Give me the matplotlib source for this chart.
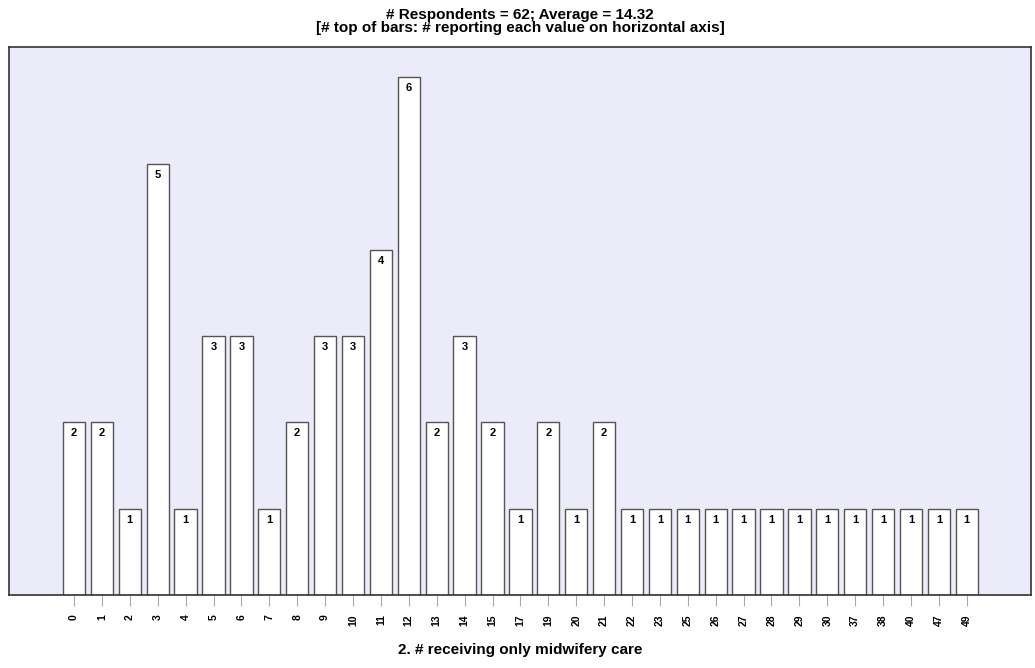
import numpy as np
import matplotlib.pyplot as plt

plt.rcParams['font.family'] = ['Liberation Sans', 'DejaVu Sans']

values = ['0', '1', '2', '3', '4', '5', '6', '7', '8', '9', '10', '11', '12', '13', '14', '15',
          '17', '19', '20', '21', '22', '23', '25', '26', '27', '28', '29', '30', '37', '38',
          '40', '47', '49']
counts = [2, 2, 1, 5, 1, 3, 3, 1, 2, 3, 3, 4, 6, 2, 3, 2,
          1, 2, 1, 2, 1, 1, 1, 1, 1, 1, 1, 1, 1, 1,
          1, 1, 1]

fig = plt.figure(figsize=(10.35, 6.68), dpi=100)
ax = fig.add_axes([0.0087, 0.1093, 0.9874, 0.8203])
ax.set_facecolor('#ebebfa')

x = np.arange(len(values))
ax.bar(x, counts, width=0.8, color='white', edgecolor='#555555', linewidth=1.0)
for xi, c in zip(x, counts):
    ax.text(xi, c - 0.07, str(c), ha='center', va='top', fontsize=8, fontweight='bold')

ax.set_xlim(-2.33, 34.3)
ax.set_ylim(0, 6.35)
ax.set_xticks(x)
ax.set_xticklabels(values, rotation=90, fontsize=7.5, fontweight='bold')
ax.tick_params(axis='x', length=8, color='#aaaaaa', pad=6)
ax.set_yticks([])
for s in ax.spines.values():
    s.set_color('#333333')
    s.set_linewidth(1.2)

ax.set_title('# Respondents = 62; Average = 14.32\n[# top of bars: # reporting each value on horizontal axis]',
             fontsize=11, fontweight='bold', linespacing=0.85, pad=11)
ax.set_xlabel('2. # receiving only midwifery care', fontsize=11, fontweight='bold', labelpad=12)

fig.savefig('out.png', dpi=100)
